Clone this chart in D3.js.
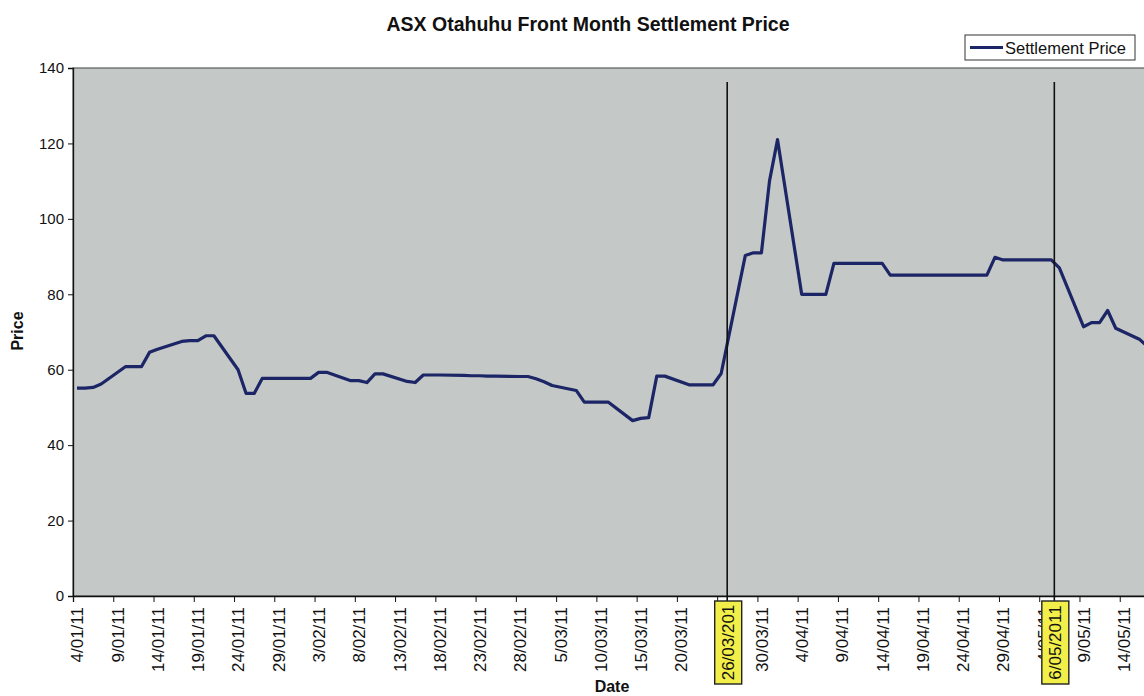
<!DOCTYPE html>
<html>
<head>
<meta charset="utf-8">
<script src="https://cdn.jsdelivr.net/npm/d3@7"></script>
<style>
  html, body { margin: 0; padding: 0; background: #ffffff; }
  svg { display: block; font-family: "Liberation Sans", Arial, sans-serif; }
</style>
</head>
<body>
<svg id="chart" width="1144" height="696"></svg>
<script>
// ---------- data ----------
const titleText = "ASX Otahuhu Front Month Settlement Price";
const seriesName = "Settlement Price";
const yAxisTitle = "Price";
const xAxisTitle = "Date";

const datesJan = ["2011-01-04","2011-01-05","2011-01-06","2011-01-07","2011-01-10","2011-01-11","2011-01-12","2011-01-13","2011-01-14","2011-01-17","2011-01-18","2011-01-19","2011-01-20","2011-01-21","2011-01-24","2011-01-25","2011-01-26","2011-01-27","2011-01-28","2011-01-31"];
const pricesJan = [55.1,55.1,55.3,56.2,60.8,60.8,60.8,64.6,65.4,67.5,67.7,67.7,69,69,60,53.7,53.7,57.7,57.7,57.7];

const datesFeb = ["2011-02-01","2011-02-02","2011-02-03","2011-02-04","2011-02-07","2011-02-08","2011-02-09","2011-02-10","2011-02-11","2011-02-14","2011-02-15","2011-02-16","2011-02-17","2011-02-18","2011-02-21","2011-02-22","2011-02-23","2011-02-24","2011-02-25","2011-02-28"];
const pricesFeb = [57.7,57.7,59.3,59.3,57.1,57.1,56.6,58.9,58.9,56.9,56.6,58.6,58.6,58.6,58.5,58.4,58.4,58.3,58.3,58.2];

const datesMar = ["2011-03-01","2011-03-02","2011-03-03","2011-03-04","2011-03-07","2011-03-08","2011-03-09","2011-03-10","2011-03-11","2011-03-14","2011-03-15","2011-03-16","2011-03-17","2011-03-18","2011-03-21","2011-03-22","2011-03-23","2011-03-24","2011-03-25","2011-03-28","2011-03-29","2011-03-30","2011-03-31"];
const pricesMar = [58.2,57.6,56.8,55.8,54.5,51.4,51.4,51.4,51.4,46.5,47.1,47.3,58.3,58.3,56,56,56,56,59,90.3,91,91,110];

const datesApr = ["2011-04-01","2011-04-04","2011-04-05","2011-04-06","2011-04-07","2011-04-08","2011-04-11","2011-04-12","2011-04-13","2011-04-14","2011-04-15","2011-04-18","2011-04-19","2011-04-20","2011-04-21","2011-04-26","2011-04-27","2011-04-28","2011-04-29"];
const pricesApr = [121,80,80,80,80,88.2,88.2,88.2,88.2,88.2,85.1,85.1,85.1,85.1,85.1,85.1,85.1,89.8,89.1];

const datesMay = ["2011-05-02","2011-05-03","2011-05-04","2011-05-05","2011-05-06","2011-05-09","2011-05-10","2011-05-11","2011-05-12","2011-05-13","2011-05-16","2011-05-17"];
const pricesMay = [89.1,89.1,89.1,89.1,87,71.4,72.5,72.5,75.7,71,68,66];

const xTickLabels = ["4/01/11","9/01/11","14/01/11","19/01/11","24/01/11","29/01/11","3/02/11","8/02/11","13/02/11","18/02/11","23/02/11","28/02/11","5/03/11","10/03/11","15/03/11","20/03/11","25/03/11","30/03/11","4/04/11","9/04/11","14/04/11","19/04/11","24/04/11","29/04/11","4/05/11","9/05/11","14/05/11"];
const yTickValues = [0,20,40,60,80,100,120,140];

const markerDates = ["2011-03-26","2011-05-06"];
const markerLabels = ["26/03/201","6/05/2011"];

// ---------- build ----------
const parseISO = d3.utcParse("%Y-%m-%d");
const parseTick = d3.utcParse("%d/%m/%y");
const allDates = [].concat(datesJan, datesFeb, datesMar, datesApr, datesMay);
const allPrices = [].concat(pricesJan, pricesFeb, pricesMar, pricesApr, pricesMay);
const data = allDates.map((d, i) => ({ date: parseISO(d), value: allPrices[i] }));

const svg = d3.select("#chart");
const plot = { left: 73, top: 68, right: 1160, bottom: 596 };

const startDate = parseISO("2011-01-04");
const endDate = d3.utcDay.offset(startDate, 135);
const x = d3.scaleUtc().domain([startDate, endDate]).range([plot.left, plot.right]);
const y = d3.scaleLinear().domain([0, 140]).range([plot.bottom, plot.top]);
const mid = d => d3.utcHour.offset(d, 12); // points sit in the middle of their day slot

// plot background
svg.append("rect")
  .attr("x", plot.left).attr("y", plot.top)
  .attr("width", plot.right - plot.left).attr("height", plot.bottom - plot.top)
  .attr("fill", "#c4c9c7")
  .attr("stroke", "#5a5d5c").attr("stroke-width", 1.2);

svg.append("defs").append("clipPath").attr("id", "clip")
  .append("rect").attr("x", plot.left).attr("y", plot.top)
  .attr("width", plot.right - plot.left).attr("height", plot.bottom - plot.top);

// title
svg.append("text")
  .attr("x", 588).attr("y", 31)
  .attr("text-anchor", "middle")
  .attr("font-size", 19.5).attr("font-weight", "bold").attr("fill", "#111")
  .text(titleText);

// y axis
const yAxis = d3.axisLeft(y).tickValues(yTickValues).tickSize(5).tickPadding(4);
const gy = svg.append("g").attr("transform", `translate(${plot.left},0)`).call(yAxis);
gy.select(".domain").attr("stroke", "#111").attr("stroke-width", 1.3);
gy.selectAll(".tick line").attr("stroke", "#111");
gy.selectAll(".tick text").attr("font-size", 15).attr("fill", "#111")
  .attr("font-family", "Liberation Sans, Arial, sans-serif");

svg.append("text")
  .attr("transform", `translate(23,331) rotate(-90)`)
  .attr("text-anchor", "middle")
  .attr("font-size", 16).attr("font-weight", "bold").attr("fill", "#111")
  .text(yAxisTitle);

// x axis
const tickDates = xTickLabels.map(parseTick);
const xAxis = d3.axisBottom(x).tickValues(tickDates).tickSize(6).tickFormat((d, i) => xTickLabels[i]);
const gx = svg.append("g").attr("transform", `translate(0,${plot.bottom})`).call(xAxis);
gx.select(".domain").attr("stroke", "#111").attr("stroke-width", 1.3);
gx.selectAll(".tick line").attr("stroke", "#111");
gx.selectAll(".tick text")
  .attr("font-size", 17).attr("fill", "#111")
  .attr("font-family", "Liberation Sans, Arial, sans-serif")
  .attr("text-anchor", "end")
  .attr("transform", "translate(4,11) rotate(-90)")
  .attr("x", 0).attr("y", 0).attr("dy", "0.35em");

svg.append("text")
  .attr("x", 612).attr("y", 692)
  .attr("text-anchor", "middle")
  .attr("font-size", 16).attr("font-weight", "bold").attr("fill", "#111")
  .text(xAxisTitle);

// series line
const line = d3.line().x(d => x(mid(d.date))).y(d => y(d.value));
svg.append("path")
  .datum(data)
  .attr("clip-path", "url(#clip)")
  .attr("fill", "none")
  .attr("stroke", "#1c2566")
  .attr("stroke-width", 3.2)
  .attr("stroke-linejoin", "round")
  .attr("d", line);

// marker annotations
markerDates.forEach((md, i) => {
  const cx = x(parseISO(md)) + (i === 0 ? 2 : -1);
  svg.append("line")
    .attr("x1", cx).attr("x2", cx)
    .attr("y1", 82).attr("y2", 601)
    .attr("stroke", "#111").attr("stroke-width", 1.6);
  const bw = 27, bh = 83, top = 601;
  svg.append("rect")
    .attr("x", cx - bw / 2 + 1).attr("y", top)
    .attr("width", bw).attr("height", bh)
    .attr("fill", "#f2ee4a").attr("stroke", "#222").attr("stroke-width", 1.4);
  svg.append("text")
    .attr("transform", `translate(${cx + 1},${top + bh / 2}) rotate(-90)`)
    .attr("text-anchor", "middle").attr("dy", "0.35em")
    .attr("font-size", 17).attr("fill", "#111")
    .text(markerLabels[i]);
});

// legend
const lg = svg.append("g").attr("transform", "translate(965,35)");
lg.append("rect").attr("width", 170).attr("height", 25)
  .attr("fill", "#fff").attr("stroke", "#333").attr("stroke-width", 1);
lg.append("line").attr("x1", 5).attr("x2", 38).attr("y1", 12.5).attr("y2", 12.5)
  .attr("stroke", "#1c2566").attr("stroke-width", 3.2);
lg.append("text").attr("x", 40).attr("y", 18.5)
  .attr("font-size", 16.5).attr("fill", "#111").text(seriesName);
</script>
</body>
</html>
